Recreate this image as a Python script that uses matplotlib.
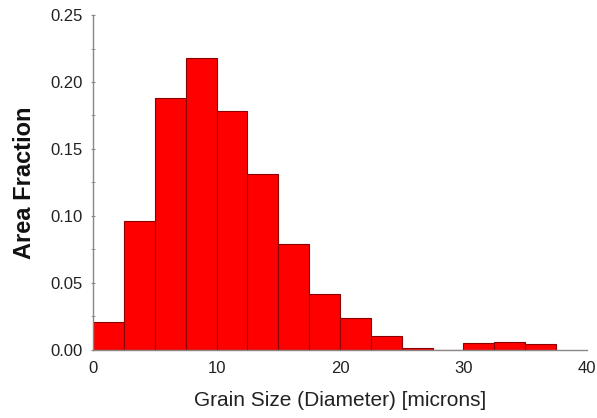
import matplotlib
matplotlib.use("Agg")
import matplotlib.pyplot as plt
import numpy as np

# ── Data ──────────────────────────────────────────────────────────────────────
bin_edges = np.arange(0, 37.5 + 0.01, 2.5)
area_fraction = [0.021, 0.096, 0.188, 0.218, 0.178, 0.131, 0.079, 0.042,
                 0.0235, 0.0105, 0.0017, 0.0, 0.0055, 0.0062, 0.0042]
x_ticks = [0, 10, 20, 30, 40]
y_ticks = [0.00, 0.05, 0.10, 0.15, 0.20, 0.25]

plt.rcParams["font.family"] = ["Liberation Sans", "DejaVu Sans"]

fig = plt.figure(figsize=(5.97, 4.18), dpi=100)
ax = fig.add_axes([0.156, 0.163, 0.827, 0.801])

ax.bar(bin_edges[:-1], area_fraction, width=np.diff(bin_edges), align="edge",
       color="#ff0000", edgecolor="#8b0000", linewidth=0.8)

ax.set_xlim(0, 40)
ax.set_ylim(0, 0.25)
ax.set_xticks(x_ticks)
ax.set_yticks(y_ticks)
ax.set_yticklabels([f"{v:.2f}" for v in y_ticks])
ax.set_yticks(np.arange(0.025, 0.25, 0.05), minor=True)

for side in ("top", "right"):
    ax.spines[side].set_visible(False)
for side in ("left", "bottom"):
    ax.spines[side].set_color("#888888")
    ax.spines[side].set_linewidth(1.0)

ax.tick_params(axis="x", length=0, labelsize=12, colors="#222222", pad=8)
ax.tick_params(axis="y", which="major", length=3, direction="inout",
               color="#888888", labelsize=12, labelcolor="#222222", pad=6)
ax.tick_params(axis="y", which="minor", length=3, direction="inout",
               color="#888888")

ax.set_xlabel("Grain Size (Diameter) [microns]", fontsize=15, color="#222222",
              labelpad=11)
ax.set_ylabel("Area Fraction", fontsize=17, fontweight="bold", color="#111111",
              labelpad=10)

fig.savefig("out.png", dpi=100)
